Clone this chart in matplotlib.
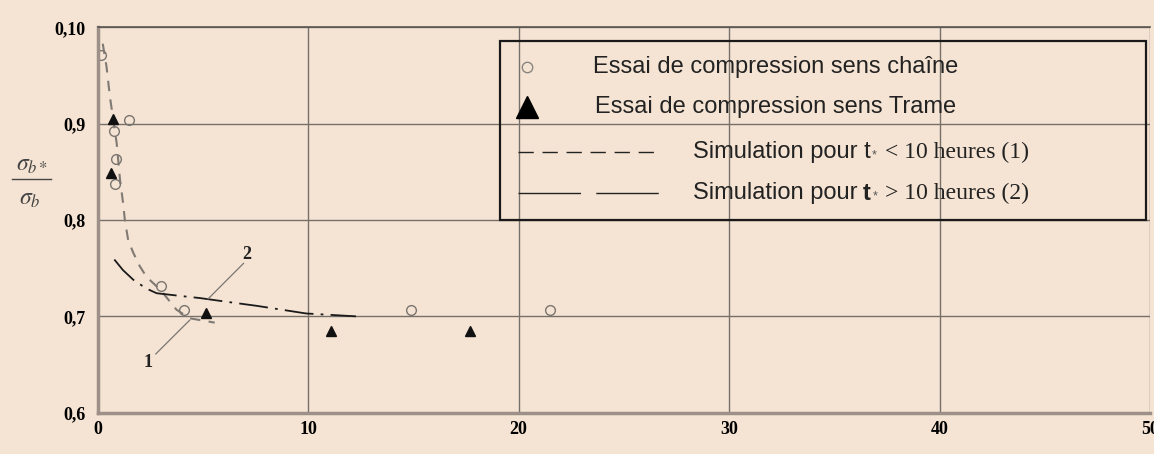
import matplotlib.pyplot as plt
from matplotlib.patches import Rectangle
from matplotlib.lines import Line2D

W, H = 1154, 454
BG = '#f5e4d3'

# essais - sens chaine (cercles) et sens trame (triangles)
chaine_x = [0.16, 1.5, 0.79, 0.85, 0.82, 3.0, 4.1, 14.9, 21.5]
chaine_y = [0.971, 0.904, 0.892, 0.863, 0.837, 0.731, 0.707, 0.707, 0.707]
trame_x = [0.71, 0.63, 5.15, 11.1, 17.7]
trame_y = [0.905, 0.849, 0.703, 0.685, 0.685]

# simulation (1) t* < 10 h
sim1_x = [0.24, 0.42, 0.58, 0.9, 1.06, 1.21, 1.29, 1.45, 1.69, 2.0, 2.32, 3.0, 3.74, 4.37, 5.56]
sim1_y = [0.983, 0.959, 0.928, 0.88, 0.842, 0.817, 0.80, 0.779, 0.766, 0.752, 0.741, 0.727, 0.707, 0.698, 0.6935]
# simulation (2) t* > 10 h
sim2_x = [0.79, 1.2, 1.69, 2.3, 2.8, 4.0, 4.85, 6.5, 7.53, 9.9, 12.27]
sim2_y = [0.759, 0.748, 0.738, 0.729, 0.724, 0.721, 0.719, 0.714, 0.711, 0.703, 0.70]

x_ticks = [0, 10, 20, 30, 40, 50]
y_ticks = [0.6, 0.7, 0.8, 0.9, 1.0]
y_labels = ['0,6', '0,7', '0,8', '0,9', '0,10']

# reperes "1" et "2" avec leur trait de rappel
lab1 = (2.4, 0.652)
lead1_x, lead1_y = [2.76, 4.37], [0.661, 0.696]
lab2 = (7.06, 0.764)
lead2_x, lead2_y = [6.93, 5.24], [0.755, 0.718]


def fx(px):
    return px / W


def fy(py):
    return 1 - py / H


plt.rcParams['mathtext.fontset'] = 'stix'

fig = plt.figure(figsize=(W / 100, H / 100), dpi=100, facecolor=BG)
ax = fig.add_axes([fx(97.7), fy(412.7), fx(1150) - fx(97.7), fy(27.3) - fy(412.7)])
ax.set_facecolor(BG)
ax.set_xlim(0, 50)
ax.set_ylim(0.6, 1.0)

serif = 'Liberation Serif'
sans = 'Liberation Sans'

ax.set_xticks(x_ticks)
ax.set_xticklabels([str(v) for v in x_ticks], fontfamily=serif, fontweight='bold', fontsize=13)
ax.set_yticks(y_ticks)
ax.set_yticklabels(y_labels, fontfamily=serif, fontweight='bold', fontsize=13)
ax.tick_params(length=0, pad=6)
ax.tick_params(axis='y', pad=9)

ax.grid(True, color='#76706a', lw=1.0)
for s in ['left', 'bottom']:
    ax.spines[s].set_color('#9c9088')
    ax.spines[s].set_linewidth(2.5)
ax.spines['top'].set_color('#5a5550')
ax.spines['top'].set_linewidth(1.2)
ax.spines['right'].set_visible(False)

ax.plot(sim1_x, sim1_y, color='#807a75', lw=1.5, linestyle=(0, (5, 4)))
ax.plot(sim2_x, sim2_y, color='#1a1a1a', lw=1.3, linestyle=(0, (16, 4, 1.5, 4)))

ax.plot(chaine_x, chaine_y, linestyle='none', marker='o', ms=7, mfc='none', mec='#7a7570', mew=1.0)
ax.plot(trame_x, trame_y, linestyle='none', marker='^', ms=7, color='#111111')

ax.plot(lead1_x, lead1_y, color='#7a7570', lw=0.9)
ax.plot(lead2_x, lead2_y, color='#7a7570', lw=0.9)
ax.text(*lab1, '1', fontfamily=serif, fontweight='bold', fontsize=13, ha='center', va='center', color='#222')
ax.text(*lab2, '2', fontfamily=serif, fontweight='bold', fontsize=13, ha='center', va='center', color='#222')

# label de l'axe y : fraction sigma_b* / sigma_b
fig.text(fx(32), fy(164), r'$\sigma_{b*}$', fontsize=17, color='#444', ha='center', va='center')
fig.add_artist(Line2D([fx(12), fx(51)], [fy(179), fy(179)], color='#444', lw=1.0))
fig.text(fx(30), fy(198), r'$\sigma_{b}$', fontsize=17, color='#444', ha='center', va='center')

# legende dessinee a la main
fig.add_artist(Rectangle((fx(500), fy(220)), fx(1146) - fx(500), fy(41) - fy(220),
                         fill=False, edgecolor='#1a1a1a', lw=1.6))
fig.add_artist(Line2D([fx(527)], [fy(67)], marker='o', ms=7.5, mfc='none', mec='#8a8580', mew=1.0))
fig.text(fx(593), fy(67), 'Essai de compression sens chaîne', fontfamily=sans, fontsize=17, va='center', color='#222')
fig.add_artist(Line2D([fx(527)], [fy(107)], marker='^', ms=16, color='#000000'))
fig.text(fx(595), fy(107), 'Essai de compression sens Trame', fontfamily=sans, fontsize=17, va='center', color='#222')

fig.add_artist(Line2D([fx(518), fx(660)], [fy(152), fy(152)], color='#222', lw=1.0, linestyle=(0, (11, 6.3))))
fig.text(fx(693), fy(152), 'Simulation pour t', fontfamily=sans, fontsize=17, va='center', color='#222')
fig.text(fx(872), fy(155), '*', fontfamily=sans, fontsize=9, va='center', color='#555')
fig.text(fx(885), fy(152), '< 10 heures (1)', fontfamily=serif, fontsize=17, va='center', color='#222')

fig.add_artist(Line2D([fx(518), fx(660)], [fy(193), fy(193)], color='#222', lw=1.0, linestyle=(0, (45, 11))))
fig.text(fx(693), fy(193), 'Simulation pour', fontfamily=sans, fontsize=17, va='center', color='#222')
fig.text(fx(863), fy(193), 't', fontfamily=sans, fontweight='bold', fontsize=17, va='center', color='#222')
fig.text(fx(873), fy(196), '*', fontfamily=sans, fontsize=9, va='center', color='#555')
fig.text(fx(885), fy(193), '> 10 heures (2)', fontfamily=serif, fontsize=17, va='center', color='#222')

fig.savefig('out.png', dpi=100, facecolor=BG)
